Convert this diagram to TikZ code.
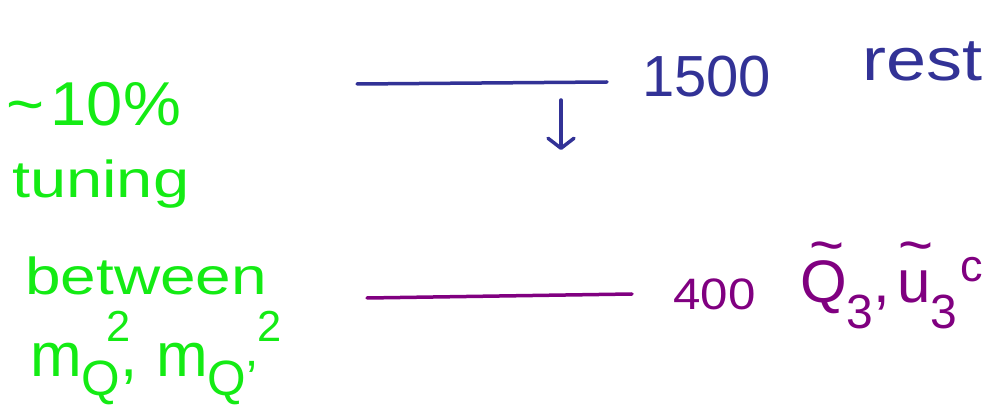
\documentclass[tikz,border=0pt]{standalone}
\usepackage{fontspec}
\usepackage{graphicx}
\setmainfont{Liberation Sans}
\usetikzlibrary{arrows.meta}
\definecolor{pblue}{RGB}{50,50,150}
\definecolor{pgreen}{RGB}{20,235,20}
\definecolor{ppurple}{RGB}{128,0,128}
\newcommand\mysub[1]{\raisebox{-0.32em}{\scalebox{0.8}{#1}}}
\newcommand\mysup[1]{\raisebox{0.55em}{\scalebox{0.7}{#1}}}
\newcommand\tildeon[2]{\makebox[0pt][l]{\hspace{#2}\raisebox{0.62em}{\textasciitilde}}#1}
\begin{document}
\begin{tikzpicture}[x=1pt,y=-1pt,
  lvl/.style={line width=3.5pt,line cap=round},
  lab/.style={inner sep=0pt,anchor=base west},
  gtxt/.style={lab,text=pgreen,font=\fontsize{52}{52}\selectfont},
]
\useasboundingbox (0,0) rectangle (995,411);
% top level
\coordinate (t1) at (357,84);
\coordinate (t2) at (607,82);
\draw[lvl,pblue] (t1) -- (t2);
\coordinate (a1) at (561,100);
\coordinate (a2) at (561,150);
\draw[line width=3.5pt,line cap=round,pblue,-{Straight Barb[length=10pt,width=26pt,line width=3.5pt,round]}] (a1) -- (a2);
\node[lab,text=pblue,font=\fontsize{58}{58}\selectfont] (n1500) at (642,97) {1500};
\node[lab,text=pblue,font=\fontsize{60}{60}\selectfont] (rest) at (862,81) {\scalebox{1.2}[1]{rest}};
% bottom level
\coordinate (b1) at (367,298);
\coordinate (b2) at (632,294);
\draw[lvl,ppurple] (b1) -- (b2);
\node[lab,text=ppurple,font=\fontsize{44}{44}\selectfont] (n400) at (673,310) {\scalebox{1.12}[1]{400}};
\node[lab,text=ppurple,font=\fontsize{60}{60}\selectfont] (sq) at (800,303) {\tildeon{Q}{0.15em}\raisebox{-0.1em}{\mysub{3}},\hspace{0.12em}\tildeon{u}{0.02em}\makebox[0pt][l]{\hspace{0.5em}\raisebox{0.35em}{\scalebox{0.75}{c}}}\raisebox{-0.1em}{\mysub{3}}\hspace{0.3em}};
% green annotation
\node[gtxt,font=\fontsize{62}{62}\selectfont] (g1) at (6,126) {\scalebox{1.05}[1]{\textasciitilde\hspace{0.1em}10\%}};
\node[gtxt] (g2) at (12,198) {\scalebox{1.25}[1]{tuning}};
\node[gtxt] (g3) at (25,295) {\scalebox{1.23}[1]{between}};
\node[gtxt,font=\fontsize{62}{62}\selectfont] (g4) at (30,376) {m\makebox[0pt][l]{\hspace{0.4em}\mysup{2}}\mysub{Q},\hspace{0.3em}m\makebox[0pt][l]{\hspace{0.8em}\mysup{2}}\mysub{Q'}};
\end{tikzpicture}
\end{document}
